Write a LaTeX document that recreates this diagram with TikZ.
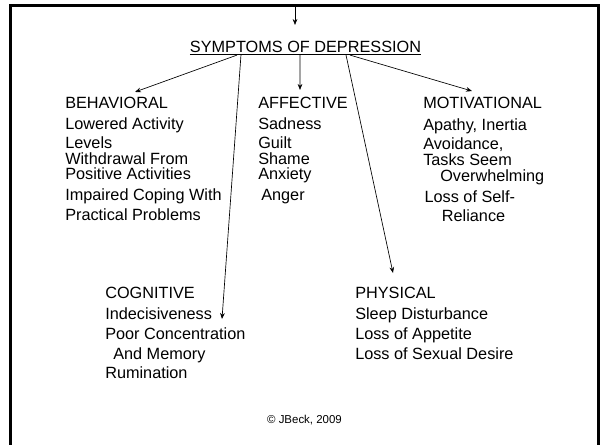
\documentclass[tikz,border=0pt]{standalone}
\usepackage{fontspec}
\setmainfont{Liberation Sans}
\usetikzlibrary{arrows.meta, calc, positioning}

\begin{document}
\begin{tikzpicture}[x=0.75pt, y=-0.75pt,
    txt/.style={inner sep=0pt, anchor=north west, align=left, font=\fontsize{12.2}{12}\selectfont},
    link/.style={-{Stealth[length=4.5pt,width=3.5pt]}, line width=0.5pt}]
    \useasboundingbox (0,0) rectangle (600,444);
    % slide frame, open at the bottom
    \draw[line width=1.6pt] (10.5,450) |- (598.5,5.5) -- (598.5,450);
    \coordinate (entry) at (295,5.5);
    \draw (305.5,52) node[anchor=base, inner sep=0pt, font=\fontsize{12.2}{12}\selectfont] (title) {\underline{SYMPTOMS OF DEPRESSION}};
    \draw (65,97.3) node[txt] (beh) {BEHAVIORAL\\[3.75pt] Lowered Activity\\[2.25pt] Levels\\[-0.25pt] Withdrawal From\\[-0.75pt] Positive Activities\\[3.5pt] Impaired Coping With\\[3pt] Practical Problems};
    \draw (258,97.3) node[txt] (aff) {AFFECTIVE\\[3.75pt] Sadness\\[2.25pt] Guilt\\[-0.25pt] Shame\\[-0.75pt] Anxiety\\[3.5pt] \hspace{2.25pt}Anger};
    \draw (423,97.3) node[txt] (mot) {MOTIVATIONAL\\[4.5pt] Apathy, Inertia\\[2.25pt] Avoidance,\\ Tasks Seem\\[-0.5pt] \hspace{12.75pt}Overwhelming\\[3.75pt] \hspace{1pt}Loss of Self-\\[2.25pt] \hspace{14pt}Reliance};
    \draw (105,286.6) node[txt] (cog) {COGNITIVE\\[3.75pt] Indecisiveness\\[3.5pt] Poor Concentration\\[3pt] \hspace{6pt}And Memory\\[1.75pt] Rumination};
    \draw (355,286.6) node[txt] (phy) {PHYSICAL\\[3.75pt] Sleep Disturbance\\[3.5pt] Loss of Appetite\\[3pt] Loss of Sexual Desire};
    \draw (304.5,423) node[anchor=base, inner sep=0pt, font=\fontsize{8.6}{10}\selectfont] (note) {© JBeck, 2009};
    \draw[link] (entry) -- ++(0,19.5);
    \path[link]
    ([xshift=-51.4pt]title.south) edge ([xshift=52.5pt,yshift=4pt]beh.north west)
    ([xshift=-48.4pt]title.south) edge ([xshift=87.75pt,yshift=-24.3pt]cog.north west)
    ([xshift=-4.1pt]title.south) edge ([xshift=31.5pt,yshift=5.5pt]aff.north west)
    ([xshift=30.4pt]title.south) edge ([xshift=28.5pt,yshift=10.2pt]phy.north west)
    ([xshift=33.4pt]title.south) edge ([xshift=36.75pt,yshift=4.7pt]mot.north west);
\end{tikzpicture}
\end{document}
